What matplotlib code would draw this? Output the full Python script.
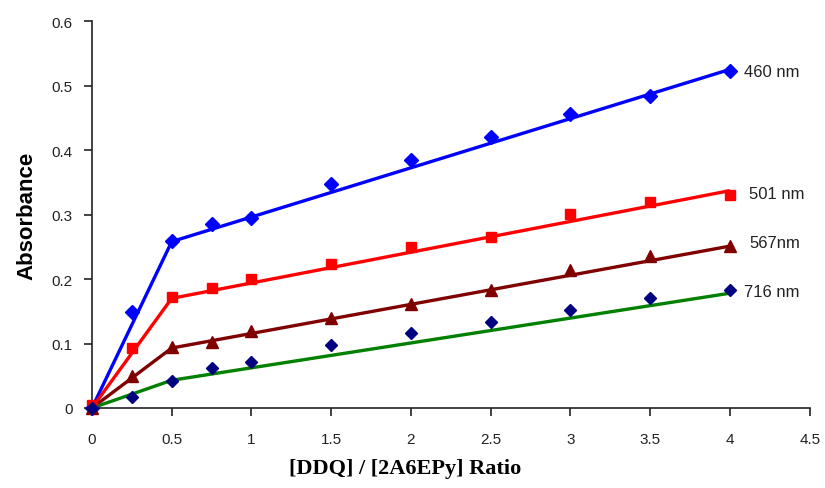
import numpy as np
import matplotlib.pyplot as plt
from matplotlib.ticker import FuncFormatter

# measured points
ratio = [0, 0.25, 0.5, 0.75, 1.0, 1.5, 2.0, 2.5, 3.0, 3.5, 4.0]
abs_460 = [0.0, 0.149, 0.259, 0.286, 0.294, 0.347, 0.385, 0.420, 0.456, 0.483, 0.523]
abs_501 = [0.005, 0.093, 0.172, 0.186, 0.200, 0.224, 0.250, 0.265, 0.301, 0.320, 0.330]
abs_567 = [0.0, 0.050, 0.095, 0.103, 0.120, 0.140, 0.162, 0.183, 0.214, 0.236, 0.251]
abs_716 = [0.0, 0.017, 0.042, 0.062, 0.072, 0.097, 0.117, 0.134, 0.152, 0.170, 0.183]

# fitted lines (two linear segments)
fit_x = [0, 0.5, 4.0]
fit_460 = [0.0, 0.258, 0.525]
fit_501 = [0.0, 0.170, 0.337]
fit_567 = [0.0, 0.093, 0.251]
fit_716 = [0.0, 0.043, 0.178]

labels = ["460 nm", "501 nm", "567nm", "716 nm"]
label_x = [4.09, 4.12, 4.12, 4.09]
label_y = [0.522, 0.333, 0.257, 0.180]

fig = plt.figure(figsize=(8.25, 4.89), dpi=100)
ax = fig.add_axes([0.1115, 0.1636, 0.870, 0.7914])

series = [
    (abs_460, fit_460, "#0000ff", "#0000ff", "D", 7),
    (abs_501, fit_501, "#ff0000", "#ff0000", "s", 7.5),
    (abs_567, fit_567, "#800000", "#800000", "^", 8.5),
    (abs_716, fit_716, "#008000", "#000080", "D", 6.5),
]
for pts, fit, lc, mc, mk, ms in series:
    ax.plot(fit_x, fit, color=lc, lw=2.4, solid_capstyle="butt", zorder=2)
    ax.plot(ratio, pts, ls="none", marker=mk, ms=ms, color=mc, zorder=3,
            clip_on=False)

for lab, xv, yv in zip(labels, label_x, label_y):
    ax.text(xv, yv, lab, fontsize=12, family="Liberation Sans",
            color="#222222", va="center", ha="left")

ax.set_xlim(0, 4.5)
ax.set_ylim(0, 0.6)
ax.set_xticks(np.arange(0, 4.51, 0.5))
ax.set_yticks(np.arange(0, 0.61, 0.1))
ax.xaxis.set_major_formatter(FuncFormatter(lambda v, p: "%g" % round(v, 2)))
ax.yaxis.set_major_formatter(FuncFormatter(lambda v, p: "%g" % round(v, 2)))
for s in ["top", "right"]:
    ax.spines[s].set_visible(False)
for s in ["left", "bottom"]:
    ax.spines[s].set_linewidth(1.2)
    ax.spines[s].set_color("#222222")
ax.tick_params(direction="out", length=6, width=1.2, color="#222222",
               labelsize=11, labelcolor="#222222")
ax.tick_params(axis="x", pad=11)
ax.tick_params(axis="y", pad=8)
for t in ax.get_xticklabels() + ax.get_yticklabels():
    t.set_family("Liberation Sans")

ax.set_ylabel("Absorbance", fontsize=16, fontweight="bold",
              family="Liberation Sans", labelpad=10)
ax.set_xlabel("[DDQ] / [2A6EPy] Ratio", fontsize=16, fontweight="bold",
              family="Liberation Serif", labelpad=9)
ax.xaxis.label.set_x(0.436)

fig.savefig("out.png", dpi=100)
